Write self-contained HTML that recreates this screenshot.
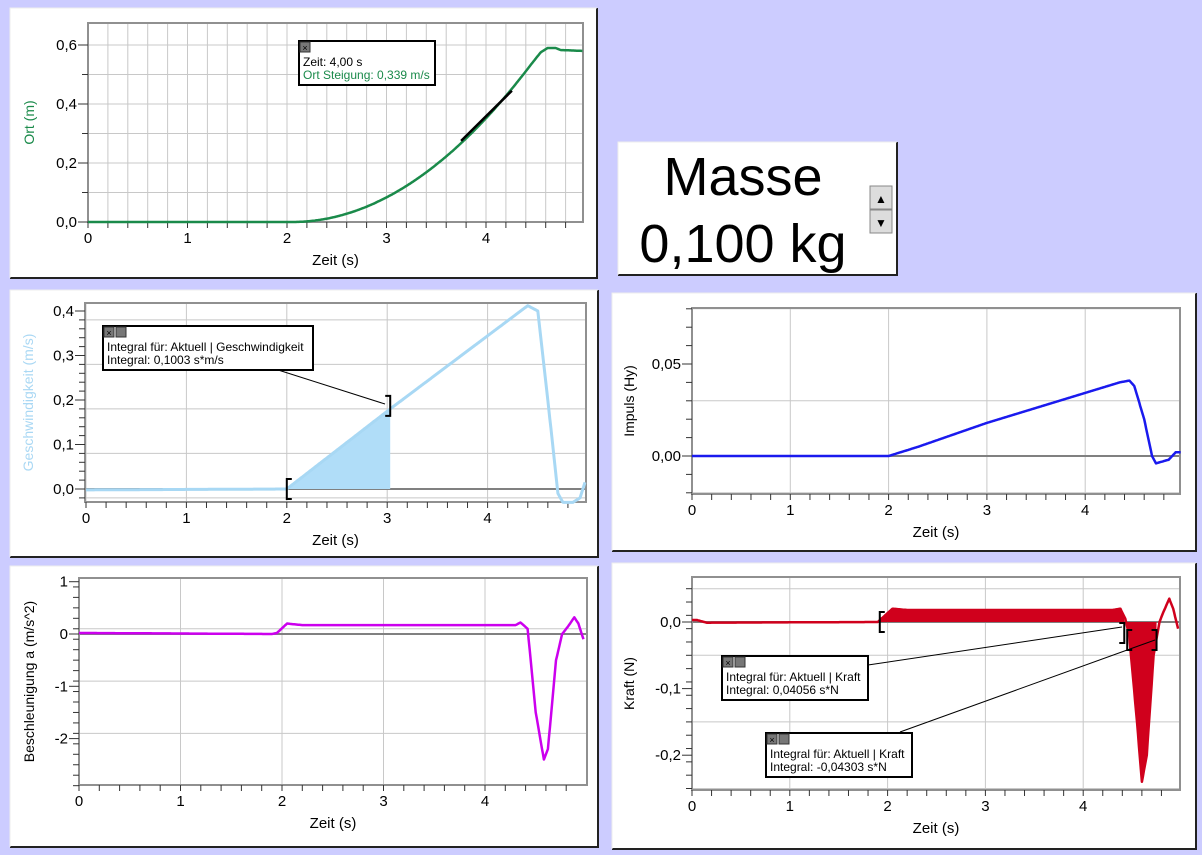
<!DOCTYPE html>
<html><head><meta charset="utf-8"><style>
body{margin:0;background:#ccccff;width:1202px;height:855px;overflow:hidden;font-family:"Liberation Sans",sans-serif}
svg{position:absolute;left:0;top:0}
</style></head><body>
<svg id="s" width="1202" height="855" xmlns="http://www.w3.org/2000/svg" font-family="Liberation Sans, sans-serif"></svg>
<script>
const S=document.getElementById('s');let h='';
function box(x1,y1,x2,y2){h+=`<rect x="${x1}" y="${y1}" width="${x2-x1}" height="${y2-y1}" fill="#fff"/><polyline points="${x1},${y2} ${x2},${y2} ${x2},${y1}" fill="none" stroke="#222" stroke-width="2"/><polyline points="${x1},${y2} ${x1},${y1} ${x2},${y1}" fill="none" stroke="#eee" stroke-width="1"/>`;}
function panel(o){
 const X=t=>o.x0+t*o.sx, Y=v=>o.y0-v*o.sy;
 o.X=X;o.Y=Y;
 for(let t=0;t<=o.tmax+1e-9;t+=o.xg){const x=X(t);if(x>o.R)break;h+=`<line x1="${x}" y1="${o.T}" x2="${x}" y2="${o.B}" stroke="#c8c8c8"/>`;}
 for(let v=o.ymin;v<=o.ymax+1e-9;v+=o.yg){const y=Y(v);if(y<o.T||y>o.B)continue;h+=`<line x1="${o.L}" y1="${y}" x2="${o.R}" y2="${y}" stroke="#c8c8c8"/>`;}
 h+=`<line x1="${o.L}" y1="${Y(0)}" x2="${o.R}" y2="${Y(0)}" stroke="#808080" stroke-width="2"/>`;
 h+=`<rect x="${o.L}" y="${o.T}" width="${o.R-o.L}" height="${o.B-o.T}" fill="none" stroke="#909090" stroke-width="2"/>`;
 for(let t=0;t<=o.tmax;t+=0.2){const x=X(t);if(x>o.R)break;h+=`<line x1="${x}" y1="${o.B}" x2="${x}" y2="${o.B+6}" stroke="#333"/>`;}
 for(let i=0;i<=4;i++)h+=`<text x="${X(i)}" y="${o.B+21}" font-size="15" text-anchor="middle">${i}</text>`;
 for(let v=o.ymin;v<=o.ymax+1e-9;v+=o.ym){const y=Y(v);if(y<o.T||y>o.B+1)continue;h+=`<line x1="${o.L-6}" y1="${y}" x2="${o.L}" y2="${y}" stroke="#333"/>`;}
 o.labels.forEach(l=>{h+=`<line x1="${o.L-10}" y1="${Y(l[0])}" x2="${o.L}" y2="${Y(l[0])}" stroke="#333"/><text x="${o.L-11}" y="${Y(l[0])+5}" font-size="15" text-anchor="end">${l[1]}</text>`;});
 h+=`<text x="${(o.L+o.R)/2}" y="${o.B+43}" font-size="15" text-anchor="middle">Zeit (s)</text>`;
 h+=`<text transform="translate(${o.yl},${(o.T+o.B)/2}) rotate(-90)" font-size="14" text-anchor="middle" fill="${o.yc||'#000'}">${o.ytitle}</text>`;
}
function lerp(pts,t){for(let i=1;i<pts.length;i++){if(t<=pts[i][0]){const a=pts[i-1],b=pts[i];return a[1]+(b[1]-a[1])*(t-a[0])/(b[0]-a[0]);}}return pts[pts.length-1][1];}
function curve(o,f,col,w,t0=0,t1=4.97){let p=[];for(let t=t0;t<=t1+1e-9;t+=0.01)p.push(o.X(t).toFixed(1)+','+o.Y(f(t)).toFixed(1));h+=`<polyline points="${p.join(' ')}" fill="none" stroke="${col}" stroke-width="${w}" stroke-linejoin="round"/>`;}
function fill(o,f,col,t0,t1){let p=[o.X(t0)+','+o.Y(0)];for(let t=t0;t<=t1+1e-9;t+=0.005)p.push(o.X(t).toFixed(1)+','+o.Y(f(t)).toFixed(1));p.push(o.X(t1)+','+o.Y(0));h+=`<polygon points="${p.join(' ')}" fill="${col}"/>`;}
function brk(x,y,dir){const d=dir*5;h+=`<polyline points="${x+d},${y-10} ${x},${y-10} ${x},${y+10} ${x+d},${y+10}" fill="none" stroke="#000" stroke-width="2"/>`;}
function note(x,y,w,l1,l2,c2,two){h+=`<rect x="${x}" y="${y}" width="${w}" height="44" fill="#fff" stroke="#000" stroke-width="2"/>`;
 h+=`<rect x="${x+1}" y="${y+1}" width="10" height="10" fill="#777" stroke="#333"/><text x="${x+6}" y="${y+10}" font-size="9" text-anchor="middle">×</text>`;
 if(two)h+=`<rect x="${x+13}" y="${y+1}" width="10" height="10" fill="#777" stroke="#333"/>`;
 h+=`<text x="${x+4}" y="${y+25}" font-size="12">${l1}</text><text x="${x+4}" y="${y+38}" font-size="12" fill="${c2}">${l2}</text>`;}

box(10,8,597,278);
const p1={x0:88,sx:99.5,y0:222,sy:295,L:88,R:583,T:23,B:222,tmax:5,xg:0.2,ymin:0,ymax:0.68,yg:0.1,ym:0.1,labels:[[0,'0,0'],[0.2,'0,2'],[0.4,'0,4'],[0.6,'0,6']],ytitle:'Ort (m)',yl:34,yc:'#1a8a4a'};
panel(p1);
const ortTail=[[4.45,0.533],[4.55,0.575],[4.62,0.59],[4.7,0.59],[4.75,0.583],[4.97,0.58]];
const ortF=t=>t<2.05?0:(t<4.45?0.0925*(t-2.05)*(t-2.05):lerp(ortTail,t));
curve(p1,ortF,'#1a8a4a',2.5);
h+=`<line x1="${p1.X(3.75)}" y1="${p1.Y(0.275)}" x2="${p1.X(4.26)}" y2="${p1.Y(0.445)}" stroke="#000" stroke-width="2.5"/>`;
note(299,41,136,'Zeit: 4,00 s','Ort  Steigung: 0,339 m/s','#1a8a4a',false);

box(618,142,897,275);
h+=`<text x="743" y="195" font-size="54" text-anchor="middle">Masse</text><text x="743" y="262" font-size="54" text-anchor="middle">0,100 kg</text>`;
h+=`<rect x="870" y="186" width="22" height="23" fill="#ddd" stroke="#888"/><rect x="870" y="210" width="22" height="23" fill="#ddd" stroke="#888"/><text x="881" y="203" font-size="12" text-anchor="middle">▲</text><text x="881" y="227" font-size="12" text-anchor="middle">▼</text>`;

box(10,290,598,557);
const p2={x0:86,sx:100.4,y0:489,sy:445,L:85,R:586,T:303,B:502,tmax:5,xg:1,ymin:-0.02,ymax:0.42,yg:0.1,ym:0.02,labels:[[0,'0,0'],[0.1,'0,1'],[0.2,'0,2'],[0.3,'0,3'],[0.4,'0,4']],ytitle:'Geschwindigkeit (m/s)',yl:33,yc:'#aad8f4'};
panel(p2);
const vel=[[0,-0.002],[2,0],[3.03,0.18],[4.4,0.412],[4.5,0.4],[4.6,0.2],[4.7,-0.01],[4.75,-0.03],[4.85,-0.03],[4.92,-0.02],[4.97,0.015]];
fill(p2,t=>lerp(vel,t),'#b0ddf8',2.0,3.03);
curve(p2,t=>lerp(vel,t),'#a8d8f4',3);
brk(p2.X(2.0),489,1);brk(p2.X(3.03),p2.Y(0.18)-3,-1);
h+=`<line x1="275" y1="369" x2="385" y2="404" stroke="#000"/>`;
note(103,326,210,'Integral für: Aktuell | Geschwindigkeit','Integral: 0,1003 s*m/s','#000',true);

box(612,293,1196,551);
const p3={x0:692,sx:98.3,y0:456,sy:1840,L:692,R:1180,T:308,B:494,tmax:5,xg:1,ymin:-0.02,ymax:0.08,yg:0.05,ym:0.01,labels:[[0,'0,00'],[0.05,'0,05']],ytitle:'Impuls (Hy)',yl:634};
panel(p3);
const imp=[[0,0],[2,0],[2.3,0.005],[3,0.018],[4.35,0.04],[4.45,0.041],[4.5,0.038],[4.6,0.02],[4.68,0],[4.72,-0.004],[4.85,-0.002],[4.92,0.002],[4.97,0.002]];
curve(p3,t=>lerp(imp,t),'#1a1aee',2.5);

box(10,566,598,847);
const p4={x0:79,sx:101.5,y0:634,sy:52.3,L:79,R:587,T:578,B:785,tmax:5,xg:1,ymin:-2.9,ymax:1.05,yg:1,ym:0.2,labels:[[1,'1'],[0,'0'],[-1,'-1'],[-2,'-2']],ytitle:'Beschleunigung a (m/s^2)',yl:34};
panel(p4);
const acc=[[0,0.02],[1.9,0],[1.95,0.02],[2.05,0.2],[2.2,0.17],[4.3,0.17],[4.35,0.22],[4.42,0.1],[4.5,-1.5],[4.58,-2.4],[4.62,-2.2],[4.7,-0.5],[4.76,0],[4.82,0.15],[4.88,0.32],[4.92,0.2],[4.97,-0.1]];
curve(p4,t=>lerp(acc,t),'#cc00ee',2.5);

box(612,563,1196,849);
const p5={x0:692,sx:97.8,y0:622,sy:666,L:692,R:1180,T:577,B:790,tmax:5,xg:1,ymin:-0.25,ymax:0.06,yg:0.1,ym:0.02,labels:[[0,'0,0'],[-0.1,'-0,1'],[-0.2,'-0,2']],ytitle:'Kraft (N)',yl:634};
panel(p5);
const kr=[[0,0.003],[0.05,0.003],[0.15,-0.001],[1.9,0],[2.05,0.02],[2.2,0.018],[4.3,0.018],[4.38,0.02],[4.43,0.005],[4.47,-0.02],[4.55,-0.15],[4.6,-0.24],[4.65,-0.2],[4.72,-0.05],[4.78,0],[4.82,0.015],[4.88,0.035],[4.92,0.02],[4.97,-0.01]];
const kf=t=>lerp(kr,t);
fill(p5,kf,'#d0001c',1.92,4.42);fill(p5,kf,'#d0001c',4.45,4.75);
curve(p5,kf,'#d0001c',2.5);
brk(p5.X(1.92),622,1);brk(p5.X(4.42),633,-1);brk(p5.X(4.45),640,1);brk(p5.X(4.75),640,-1);
h+=`<line x1="868" y1="665" x2="1122" y2="627" stroke="#000"/><line x1="900" y1="732" x2="1155" y2="640" stroke="#000"/>`;
note(722,656,146,'Integral für: Aktuell | Kraft','Integral: 0,04056 s*N','#000',true);
note(766,733,146,'Integral für: Aktuell | Kraft','Integral: -0,04303 s*N','#000',true);
S.innerHTML=h;
</script>
</body></html>
